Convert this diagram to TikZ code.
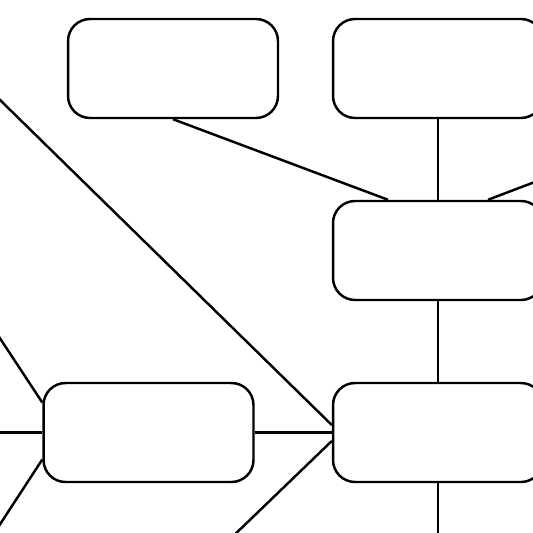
\documentclass[tikz,border=0pt]{standalone}
\begin{document}
\begin{tikzpicture}[x=0.02cm, y=-0.02cm, line width=1.4pt,
    box/.style={draw, fill=white, rounded corners=0.44cm,
        minimum width=4.2cm, minimum height=1.98cm, inner sep=0pt}]
    % 画布范围
    \clip (0, 0) rectangle (533, 533);

    % 定义方框
    \node[box] (A) at (173, 68.5) {};
    \node[box] (B) at (438, 68.5) {};
    \node[box] (C) at (438, 250.5) {};
    \node[box] (D) at (438, 432.5) {};
    \node[box] (E) at (148.5, 432.5) {};

    % 画布外的端点
    \coordinate (P1) at (703, 118);
    \coordinate (P2) at (-50, 51);
    \coordinate (P3) at (200, 568);
    \coordinate (P4) at (438, 560);
    \coordinate (P5) at (-20, 308);
    \coordinate (P6) at (-20, 432.5);
    \coordinate (P7) at (-20, 555);

    % 上方的连线
    \draw (A.south) -- ([xshift=-1cm]C.north);
    \draw (B.south) -- (C.north);
    \draw ([xshift=1cm]C.north) -- (P1);

    % 右侧竖线
    \draw (C.south) -- (D.north);
    \draw (D.south) -- (P4);

    % 连到 D 的线
    \draw (P2) -- ([yshift=0.15cm]D.west);
    \draw (E.east) -- (D.west);
    \draw ([yshift=-0.17cm]D.west) -- (P3);

    % 连到 E 的线
    \draw (P5) -- ([yshift=0.6cm]E.west);
    \draw (P6) -- (E.west);
    \draw (P7) -- ([yshift=-0.54cm]E.west);
\end{tikzpicture}
\end{document}
